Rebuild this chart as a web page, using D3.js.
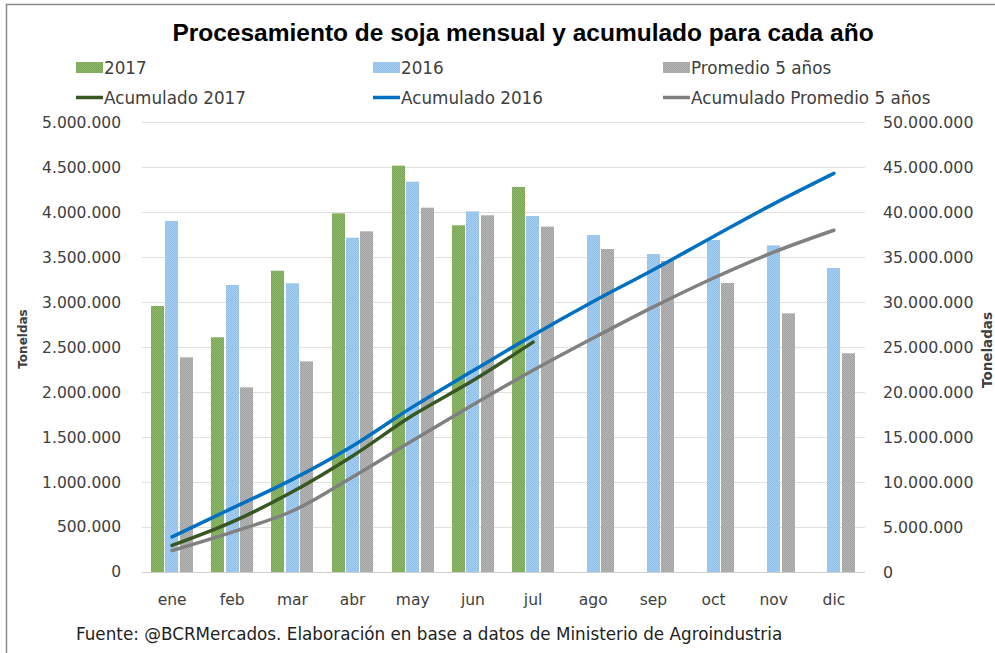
<!DOCTYPE html>
<html>
<head>
<meta charset="utf-8">
<script src="https://cdn.jsdelivr.net/npm/d3@7/dist/d3.min.js"></script>
<style>
  html, body { margin: 0; padding: 0; background: #fff; }
  svg { display: block; }
</style>
</head>
<body>
<svg id="chart" width="995" height="653"></svg>
<script>
// data (tonnes)
var months = ["ene", "feb", "mar", "abr", "may", "jun", "jul", "ago", "sep", "oct", "nov", "dic"];
var seriesNames = ["2017", "2016", "Promedio 5 años"];
var values2017 = [2958000, 2610000, 3350000, 3988000, 4518000, 3855000, 4281000];
var values2016 = [3903000, 3191000, 3210000, 3717000, 4340000, 4010000, 3958000, 3747000, 3536000, 3691000, 3632000, 3380000];
var valuesProm = [2387000, 2053000, 2342000, 3788000, 4051000, 3966000, 3840000, 3591000, 3458000, 3213000, 2876000, 2432000];
var acum2017 = [2958000, 5568000, 8918000, 12906000, 17424000, 21279000, 25560000];
var acum2016 = [3903000, 7094000, 10304000, 14021000, 18361000, 22371000, 26329000, 30076000, 33612000, 37303000, 40935000, 44315000];
var acumProm = [2387000, 4440000, 6782000, 10570000, 14621000, 18587000, 22427000, 26018000, 29476000, 32689000, 35565000, 37997000];
var leftTicks = d3.range(0, 5000001, 500000);
var rightTicks = d3.range(0, 50000001, 5000000);

var svg = d3.select("#chart");
var fmt = function(v) { return d3.format(",")(v).replace(/,/g, "."); };

var plot = {left: 142, right: 864, top: 122.3, bottom: 572};

var x0 = d3.scaleBand().domain(months).range([plot.left, plot.right]);
var groupW = 42;
var x1 = d3.scaleBand().domain(seriesNames)
  .range([(x0.bandwidth() - groupW) / 2, (x0.bandwidth() + groupW) / 2])
  .paddingInner(0.08);
var yL = d3.scaleLinear().domain([0, 5000000]).range([plot.bottom, plot.top]);
var yR = d3.scaleLinear().domain([0, 50000000]).range([plot.bottom, plot.top]);

// patterns for the dotted Excel fills
var defs = svg.append("defs");
var fills = {
  "2017": ["#8fba6b", "#7aa555"],
  "2016": ["#a6cef1", "#90c0ea"],
  "Promedio 5 años": ["#b6b6b6", "#a2a2a2"]
};
seriesNames.forEach(function(s, i) {
  var p = defs.append("pattern").attr("id", "pat" + i)
    .attr("width", 2).attr("height", 2).attr("patternUnits", "userSpaceOnUse");
  p.append("rect").attr("width", 2).attr("height", 2).attr("fill", fills[s][0]);
  p.append("rect").attr("width", 1).attr("height", 1).attr("fill", fills[s][1]);
  p.append("rect").attr("x", 1).attr("y", 1).attr("width", 1).attr("height", 1).attr("fill", fills[s][1]);
});

// frame
svg.append("rect").attr("x", 6.5).attr("y", 4.5).attr("width", 1000).attr("height", 700)
  .attr("fill", "none").attr("stroke", "#8a8a8a").attr("stroke-width", 1.5);

// gridlines
svg.append("g").selectAll("line").data(leftTicks).enter().append("line")
  .attr("x1", plot.left).attr("x2", plot.right + 1)
  .attr("y1", d => Math.round(yL(d)) + 0.5).attr("y2", d => Math.round(yL(d)) + 0.5)
  .attr("stroke", d => d === 0 ? "#d0d0d0" : "#e0e0e0").attr("stroke-width", 1);

// left axis
var axL = svg.append("g").attr("transform", "translate(" + (plot.left - 21) + ",0)")
  .call(d3.axisLeft(yL).tickValues(leftTicks).tickFormat(fmt).tickSize(0).tickPadding(0));
axL.select(".domain").remove();
axL.selectAll("text").attr("font-family", "DejaVu Sans").attr("font-size", "15.5px").attr("fill", "#404040");

// right axis
var axR = svg.append("g").attr("transform", "translate(" + (plot.right + 19) + ",0)")
  .call(d3.axisRight(yR).tickValues(rightTicks).tickFormat(fmt).tickSize(0).tickPadding(0));
axR.select(".domain").remove();
axR.selectAll("text").attr("font-family", "DejaVu Sans").attr("font-size", "15.8px").attr("fill", "#404040");

// month labels
var axB = svg.append("g").attr("transform", "translate(0," + (plot.bottom + 22) + ")")
  .call(d3.axisBottom(x0).tickSize(0).tickPadding(0));
axB.select(".domain").remove();
axB.selectAll("text").attr("font-family", "DejaVu Sans").attr("font-size", "15.5px").attr("fill", "#404040");

// bars
var barData = [values2017, values2016, valuesProm];
var bars = svg.append("g");
barData.forEach(function(vals, i) {
  bars.selectAll(".b" + i).data(vals).enter().append("rect")
    .attr("class", "b" + i)
    .attr("x", (d, j) => Math.round(x0(months[j]) + x1(seriesNames[i])))
    .attr("width", Math.round(x1.bandwidth()))
    .attr("y", d => yL(d))
    .attr("height", d => yL(0) - yL(d))
    .attr("fill", "url(#pat" + i + ")");
});

// cumulative lines
var cx = (d, j) => x0(months[j]) + x0.bandwidth() / 2;
var line = d3.line().x(cx).y(d => yR(d)).curve(d3.curveCatmullRom.alpha(0.5));
var lineSeries = [
  {vals: acumProm, color: "#808080"},
  {vals: acum2017, color: "#385723"},
  {vals: acum2016, color: "#0070c0"}
];
lineSeries.forEach(function(s) {
  svg.append("path").datum(s.vals).attr("d", line)
    .attr("fill", "none").attr("stroke", s.color).attr("stroke-width", 3.5)
    .attr("stroke-linecap", "round");
});

// title
svg.append("text").attr("x", 523).attr("y", 41).attr("text-anchor", "middle")
  .attr("font-family", "Liberation Sans").attr("font-weight", "bold").attr("font-size", "24.5px")
  .attr("fill", "#000").text("Procesamiento de soja mensual y acumulado para cada año");

// legend
var legendBars = [
  {label: "2017", x: 76, i: 0},
  {label: "2016", x: 373, i: 1},
  {label: "Promedio 5 años", x: 663, i: 2}
];
var legendLines = [
  {label: "Acumulado 2017", x: 76, color: "#385723"},
  {label: "Acumulado 2016", x: 373, color: "#0070c0"},
  {label: "Acumulado Promedio 5 años", x: 663, color: "#808080"}
];
var lg = svg.append("g");
legendBars.forEach(function(d) {
  lg.append("rect").attr("x", d.x).attr("y", 62).attr("width", 27).attr("height", 11)
    .attr("fill", "url(#pat" + d.i + ")");
  lg.append("text").attr("x", d.x + 28).attr("y", 74).text(d.label)
    .attr("font-family", "DejaVu Sans").attr("font-size", "16.8px").attr("fill", "#404040");
});
legendLines.forEach(function(d) {
  lg.append("line").attr("x1", d.x).attr("x2", d.x + 27).attr("y1", 97.5).attr("y2", 97.5)
    .attr("stroke", d.color).attr("stroke-width", 3.5);
  lg.append("text").attr("x", d.x + 28).attr("y", 104).text(d.label)
    .attr("font-family", "DejaVu Sans").attr("font-size", "16.8px").attr("fill", "#404040");
});

// axis titles
svg.append("text").attr("transform", "translate(27,339) rotate(-90)").attr("text-anchor", "middle")
  .attr("font-family", "DejaVu Sans").attr("font-weight", "bold").attr("font-size", "12px")
  .attr("fill", "#404040").text("Toneldas");
svg.append("text").attr("transform", "translate(992,350) rotate(-90)").attr("text-anchor", "middle")
  .attr("font-family", "DejaVu Sans").attr("font-weight", "bold").attr("font-size", "13.5px")
  .attr("fill", "#404040").text("Toneladas");

// source
svg.append("text").attr("x", 76).attr("y", 640)
  .attr("font-family", "DejaVu Sans").attr("font-size", "16.8px").attr("fill", "#222")
  .text("Fuente: @BCRMercados. Elaboración en base a datos de Ministerio de Agroindustria");
</script>
</body>
</html>
